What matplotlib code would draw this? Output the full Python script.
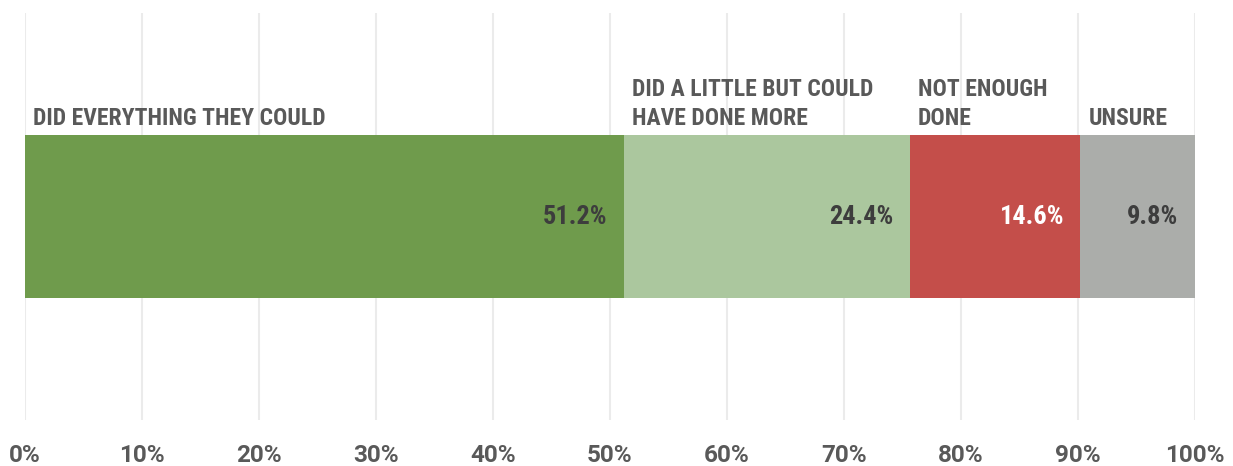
import matplotlib.pyplot as plt
from matplotlib import font_manager

categories = ["DID EVERYTHING THEY COULD", "DID A LITTLE BUT COULD\nHAVE DONE MORE",
              "NOT ENOUGH\nDONE", "UNSURE"]
values = [51.2, 24.4, 14.6, 9.8]
colors = ["#6f9b4c", "#abc79e", "#c44e4a", "#abadaa"]
value_colors = ["#3d3d3d", "#3d3d3d", "#ffffff", "#3d3d3d"]
ticks = list(range(0, 101, 10))

# condensed face for the labels if there is one
try:
    font_manager.findfont("Roboto Condensed", fallback_to_default=False)
    label_font = "Roboto Condensed"
except Exception:
    label_font = "Roboto"

fig = plt.figure(figsize=(12.33, 4.66), dpi=100)
ax = fig.add_axes([25 / 1233, 1 - 420 / 466, 1170 / 1233, 407 / 466])

left = 0
for cat, v, c, vc in zip(categories, values, colors, value_colors):
    ax.barh(0, v, left=left, height=0.4, color=c, zorder=2)
    ax.text(left + v - 1.4, 0, f"{v:.1f}%", ha="right", va="center",
            color=vc, fontsize=19, fontweight="bold", family=label_font, zorder=3)
    ax.text(left + 0.7, 0.213, cat, ha="left", va="bottom", color="#595959",
            fontsize=17, fontweight="bold", family=label_font, linespacing=1.33)
    left += v

ax.set_xlim(0, 100)
ax.set_ylim(-0.5, 0.5)
ax.set_yticks([])
ax.set_xticks(ticks)
ax.set_xticklabels([f"{t}%" for t in ticks], fontsize=17.5, fontweight="bold",
                   color="#595959", family="Roboto")
ax.tick_params(axis="x", length=0, pad=17)
ax.grid(axis="x", color="#ebebeb", linewidth=1.5, zorder=0)
for s in ax.spines.values():
    s.set_visible(False)

fig.savefig("out.png", dpi=100)
